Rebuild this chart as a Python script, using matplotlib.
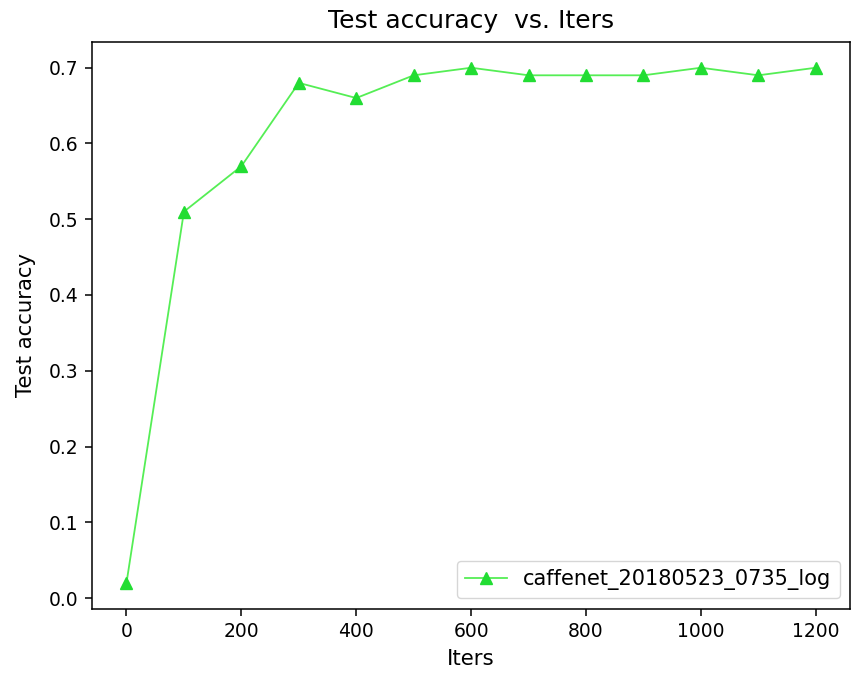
import numpy as np
import matplotlib
matplotlib.use('Agg')
import matplotlib.pyplot as plt

iters = [0, 100, 200, 300, 400, 500, 600, 700, 800, 900, 1000, 1100, 1200]
test_acc = [0.02, 0.51, 0.57, 0.68, 0.66, 0.69, 0.70, 0.69, 0.69, 0.69, 0.70, 0.69, 0.70]
label = 'caffenet_20180523_0735_log'

fig = plt.figure(figsize=(8.52, 6.77), dpi=100)
ax = fig.add_axes([0.108, 0.101, 0.89, 0.837])
ax.plot(iters, test_acc, color='#55ee55', linewidth=1.3, marker='^',
        markersize=8.5, markerfacecolor='#22dd33', markeredgecolor='#22dd33',
        label=label)
ax.set_title('Test accuracy  vs. Iters', fontsize=18, pad=10)
ax.set_xlabel('Iters', fontsize=15.3, labelpad=6)
ax.set_ylabel('Test accuracy', fontsize=15.3, labelpad=9)
ax.tick_params(labelsize=13.5, length=4.7, width=1.1, pad=5)
for s in ax.spines.values():
    s.set_linewidth(1.1)
ax.legend(loc='lower right', fontsize=15)
fig.savefig('out.png')
